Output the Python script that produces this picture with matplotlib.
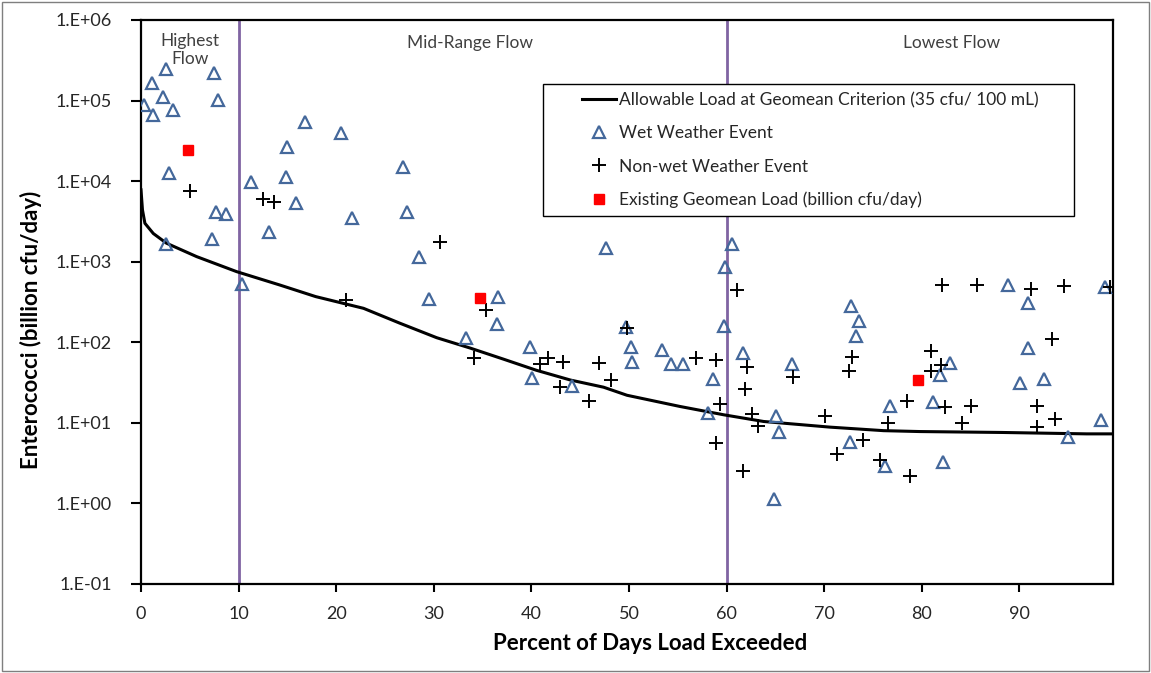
import matplotlib
matplotlib.use("Agg")
import matplotlib.pyplot as plt
from matplotlib.patches import Rectangle
from matplotlib.ticker import FixedLocator, FuncFormatter, NullLocator

plt.rcParams['font.family'] = ['Lato', 'DejaVu Sans']

# ---- data ----
curve_x = [0, 0.15, 0.4, 1.26, 2.6, 5.7, 9.8, 14.2, 17.9, 22.8, 26.5, 30.3, 33.7,
           37.1, 40.5, 44.0, 47.4, 49.8, 55.2, 59.7, 63.8, 70.6, 76.1, 79.8, 88.2, 96.9, 99.6]
curve_y = [7800, 4400, 3000, 2240, 1700, 1157, 753, 515, 369, 264, 173, 114, 85,
           62, 45, 34, 27.7, 22, 16, 12.6, 10.4, 8.85, 8.0, 7.8, 7.6, 7.3, 7.3]

wet_x = [0.3, 1.1, 2.6, 2.3, 1.27, 3.3, 7.5, 7.85, 2.9, 7.7, 8.75, 7.27, 2.56, 10.4,
         11.3, 13.1, 14.9, 15.0, 15.9, 16.8, 20.5, 21.65, 26.8, 27.3, 28.5, 29.5,
         36.6, 36.5, 33.3, 39.9, 40.1, 44.2, 47.6, 60.6, 59.8, 59.7, 49.65, 50.2,
         50.3, 53.4, 54.3, 55.5, 61.7, 66.7, 58.6, 58.1, 65.1, 65.4, 64.85, 72.8,
         73.6, 73.3, 82.9, 81.9, 81.2, 76.7, 72.7, 76.2, 82.2, 88.8, 90.9, 90.9,
         90.06, 92.5, 98.4, 95.0, 98.8]
wet_y = [88000, 167000, 244000, 110000, 66000, 76000, 218000, 101000, 12800, 4100,
         3900, 1900, 1650, 525, 9800, 2320, 11400, 26300, 5400, 54800, 39300, 3470,
         15100, 4190, 1135, 348, 369, 169, 114, 88, 36.5, 28.8, 1500, 1650, 860, 161,
         154, 87, 56.6, 80, 53.5, 54.5, 73, 53.5, 35, 13.2, 12, 7.66, 1.14, 283,
         186, 120, 55, 39.4, 18, 16, 5.75, 2.93, 3.3, 520, 305, 84,
         31.6, 35, 10.7, 6.6, 491]

non_x = [5.0, 12.5, 13.6, 21.0, 30.6, 35.4, 34.1, 41.7, 40.9, 43.2, 46.9, 48.2, 42.9,
         45.9, 49.8, 56.9, 58.9, 61.1, 62.1, 61.9, 59.3, 62.6, 63.2, 58.9, 61.7, 66.8,
         70.1, 72.85, 72.5, 74.0, 71.3, 75.7, 78.8, 76.5, 78.5, 81.0, 82.0, 80.9, 82.4,
         85.0, 84.1, 82.1, 85.7, 91.2, 94.6, 99.3, 93.4, 91.8, 93.7, 91.8]
non_y = [7550, 5960, 5470, 336, 1745, 252, 63.4, 63.4, 53.5, 57, 56, 34, 28,
         18.9, 149, 63.4, 60.5, 443, 50, 26.2, 17.2, 12.9, 9.1, 5.7, 2.56, 37.5,
         12.3, 65.3, 43.4, 6.15, 4.12, 3.47, 2.2, 9.9, 18.9, 79, 52.5, 44.2, 15.7,
         16.4, 9.9, 520, 520, 460, 506, 491, 110, 16.4, 11.3, 8.8]

geo_x = [4.8, 34.7, 79.6]
geo_y = [24200, 359, 33.8]

zone_breaks = [10, 60]
zone_labels = ["Highest\nFlow", "Mid-Range Flow", "Lowest Flow"]
zone_label_x = [5.0, 33.7, 83.1]

x_ticks = [0, 10, 20, 30, 40, 50, 60, 70, 80, 90]
y_ticks = [1e-1, 1e0, 1e1, 1e2, 1e3, 1e4, 1e5, 1e6]
y_tick_labels = ["1.E-01", "1.E+00", "1.E+01", "1.E+02", "1.E+03", "1.E+04", "1.E+05", "1.E+06"]

# ---- figure ----
W, H = 1151, 673
fig = plt.figure(figsize=(W / 100, H / 100), dpi=100)
fig.patches.append(Rectangle((0.002, 0.003), 0.996, 0.994, transform=fig.transFigure,
                             fill=False, edgecolor='#7f7f7f', linewidth=1.0))

AX_L, AX_R, AX_T, AX_B = 141, 1113, 20, 584
ax = fig.add_axes([AX_L / W, 1 - AX_B / H, (AX_R - AX_L) / W, (AX_B - AX_T) / H])
ax.set_yscale('log')
ax.set_xlim(0, 99.6)
ax.set_ylim(1e-1, 1e6)


def px2ax(px, py):
    return (px - AX_L) / (AX_R - AX_L), (AX_B - py) / (AX_B - AX_T)


for xb in zone_breaks:
    ax.axvline(xb, color='#8064A2', linewidth=2.0, zorder=1)

ax.plot(curve_x, curve_y, color='black', linewidth=2.2, zorder=3,
        label='Allowable Load at Geomean Criterion (35 cfu/ 100 mL)')
ax.plot(wet_x, wet_y, linestyle='none', marker='^', markersize=8,
        markerfacecolor='none', markeredgecolor='#44689B', markeredgewidth=1.6,
        zorder=4, label='Wet Weather Event')
ax.plot(non_x, non_y, linestyle='none', marker='+', markersize=10,
        color='black', markeredgewidth=1.4, zorder=5, label='Non-wet Weather Event')
ax.plot(geo_x, geo_y, linestyle='none', marker='s', markersize=7,
        markerfacecolor='#FF0000', markeredgecolor='#FF0000', zorder=6,
        label='Existing Geomean Load (billion cfu/day)')

for lx, lab in zip(zone_label_x, zone_labels):
    ax.text(lx, 6.6e5 if '\n' not in lab else 6.9e5, lab, ha='center', va='top',
            fontsize=12.5, color='#404040', linespacing=1.15)

ax.yaxis.set_major_locator(FixedLocator(y_ticks))
ax.yaxis.set_major_formatter(FuncFormatter(
    lambda v, p: y_tick_labels[y_ticks.index(v)] if v in y_ticks else ''))
ax.yaxis.set_minor_locator(NullLocator())
ax.xaxis.set_major_locator(FixedLocator(x_ticks))

for s in ax.spines.values():
    s.set_linewidth(1.6)
    s.set_color('black')
ax.tick_params(axis='y', direction='out', length=7, width=1.5, labelsize=13,
               labelcolor='#262626', pad=14)
ax.tick_params(axis='x', direction='out', length=6, width=1.5, labelsize=13,
               labelcolor='#262626', pad=10)

ax.set_xlabel('Percent of Days Load Exceeded', fontsize=16, fontweight='bold',
              color='black', va='center')
ax.xaxis.set_label_coords(*px2ax(650, 643))
ax.set_ylabel('Enterococci (billion cfu/day)', fontsize=16, fontweight='bold',
              color='black', va='center')
ax.yaxis.set_label_coords(*px2ax(31, 330))

# legend (frame drawn separately to match the original box)
lx0, ly0 = px2ax(543, 84)
lx1, ly1 = px2ax(1074, 216)
ax.add_patch(Rectangle((lx0, ly1), lx1 - lx0, ly0 - ly1, transform=ax.transAxes,
                       facecolor='white', edgecolor='black', linewidth=1.0, zorder=7))
leg = ax.legend(loc='upper left', bbox_to_anchor=px2ax(582, 92),
                borderaxespad=0, borderpad=0, fontsize=12.5, frameon=False,
                handlelength=1.95, handletextpad=0.2, labelspacing=0.99)
leg.set_zorder(8)
for t in leg.get_texts():
    t.set_color('#262626')

fig.savefig('out.png', dpi=100)
